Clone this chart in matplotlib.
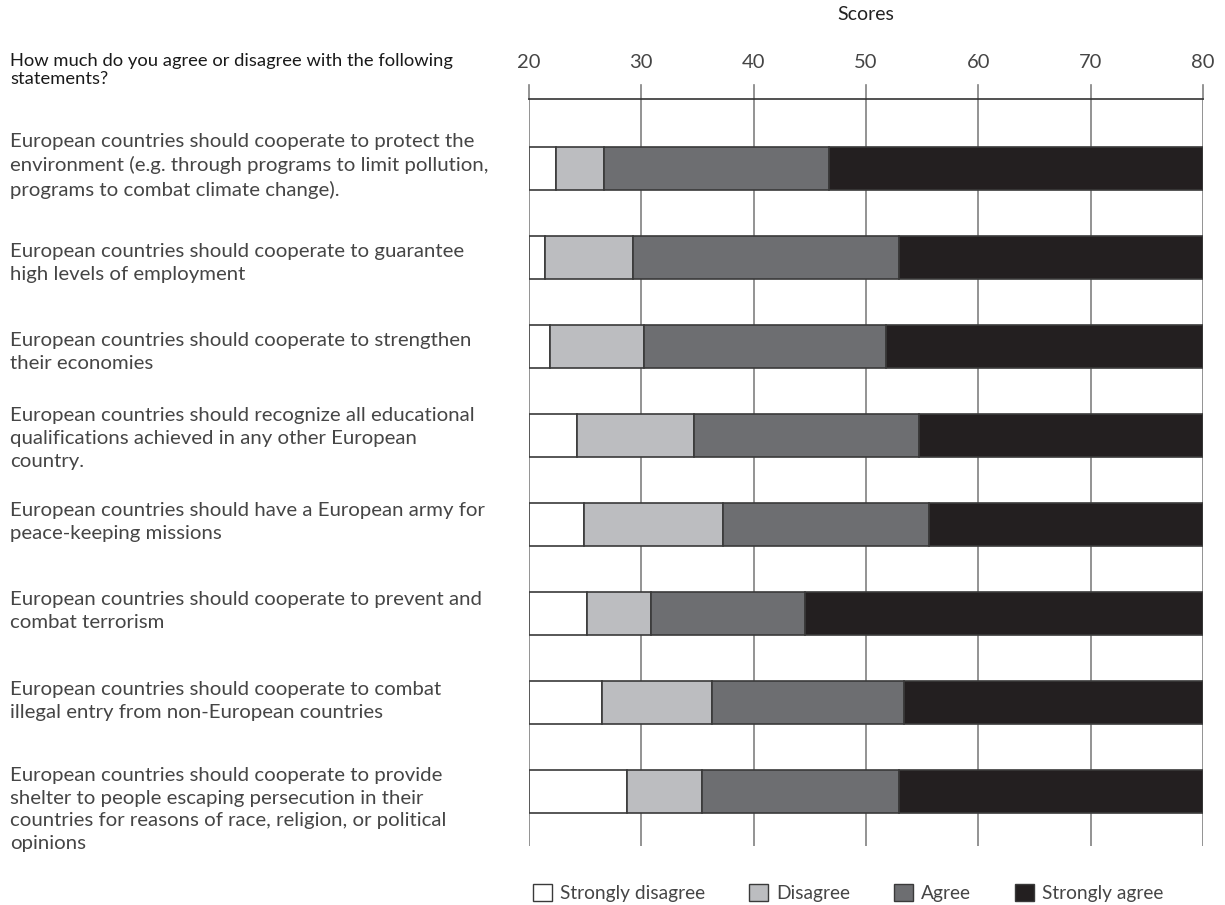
import matplotlib.pyplot as plt
from matplotlib.patches import Patch
from matplotlib.transforms import blended_transform_factory
import numpy as np

plt.rcParams['font.family'] = ['Lato', 'DejaVu Sans']

# statements (top to bottom)
statements = [
    "European countries should cooperate to protect the\nenvironment (e.g. through programs to limit pollution,\nprograms to combat climate change).",
    "European countries should cooperate to guarantee\nhigh levels of employment",
    "European countries should cooperate to strengthen\ntheir economies",
    "European countries should recognize all educational\nqualifications achieved in any other European\ncountry.",
    "European countries should have a European army for\npeace-keeping missions",
    "European countries should cooperate to prevent and\ncombat terrorism",
    "European countries should cooperate to combat\nillegal entry from non-European countries",
    "European countries should cooperate to provide\nshelter to people escaping persecution in their\ncountries for reasons of race, religion, or political\nopinions",
]

categories = ["Strongly disagree", "Disagree", "Agree", "Strongly agree"]

# segment widths on the score scale (bars start at 20)
strongly_disagree = [2.4, 1.4, 1.9, 4.3, 4.9, 5.2, 6.5, 8.7]
disagree = [4.3, 7.9, 8.3, 10.4, 12.4, 5.7, 9.8, 6.7]
agree = [20.0, 23.6, 21.6, 20.0, 18.3, 13.7, 17.1, 17.5]
strongly_agree = [33.3, 27.1, 28.2, 25.3, 24.4, 35.4, 26.6, 27.1]

ticks = [20, 30, 40, 50, 60, 70, 80]

colors = ["#ffffff", "#bcbdc0", "#6d6e71", "#231f20"]
edge = "#3a3a3a"
text_col = "#454545"

fig = plt.figure(figsize=(12.25, 9.05), dpi=100)
ax = fig.add_axes([529 / 1225, 1 - 846 / 905, (1203 - 529) / 1225, (846 - 99) / 905])

y = np.arange(len(statements))
left = np.full(len(statements), 20.0)
for vals, col in zip([strongly_disagree, disagree, agree, strongly_agree], colors):
    ax.barh(y, vals, left=left, height=0.48, color=col, edgecolor=edge,
            linewidth=1.2, zorder=3)
    left = left + np.array(vals)

ax.set_xlim(20, 80)
ax.set_ylim(7.61, -0.78)
ax.set_xticks(ticks)
ax.xaxis.tick_top()
ax.tick_params(axis='x', length=0, pad=20, labelsize=14.5, labelcolor=text_col)
ax.set_yticks([])
ax.grid(axis='x', color="#808080", linewidth=1.2, zorder=0)
for s in ['left', 'right', 'bottom']:
    ax.spines[s].set_visible(False)
ax.spines['top'].set_color("#333333")
ax.spines['top'].set_linewidth(1.2)
# tick stubs above the top line
for t in ticks:
    ax.plot([t, t], [-0.78, -0.94], color="#808080", lw=1.2, clip_on=False, zorder=0)

fig.text((529 + 1203) / 2 / 1225, 1 - 15 / 905, "Scores", ha='center', va='center',
         fontsize=14, color="#222222")

fig.text(10 / 1225, 1 - 70 / 905, "How much do you agree or disagree with the following\nstatements?",
         ha='left', va='center', fontsize=13.2, color="#1a1a1a", linespacing=1.15)

# small vertical nudges so the text blocks sit like in the original layout
nudge = [-0.03, 0.06, 0.06, 0.03, -0.03, -0.03, -0.02, 0.2]
trans = blended_transform_factory(fig.transFigure, ax.transData)
for i, s in enumerate(statements):
    ax.text(10 / 1225, i + nudge[i], s, transform=trans, ha='left', va='center',
            fontsize=14.7, color=text_col, linespacing=1.42)

handles = [Patch(facecolor=c, edgecolor=edge, linewidth=1.0) for c in colors]
leg = fig.legend(handles, categories, loc='center', bbox_to_anchor=(848 / 1225, 1 - 893 / 905),
                 ncol=4, frameon=False, fontsize=13.8, handlelength=1.0, handleheight=1.0,
                 handletextpad=0.4, columnspacing=2.3)
for t in leg.get_texts():
    t.set_color(text_col)

fig.savefig("out.png", dpi=100)
